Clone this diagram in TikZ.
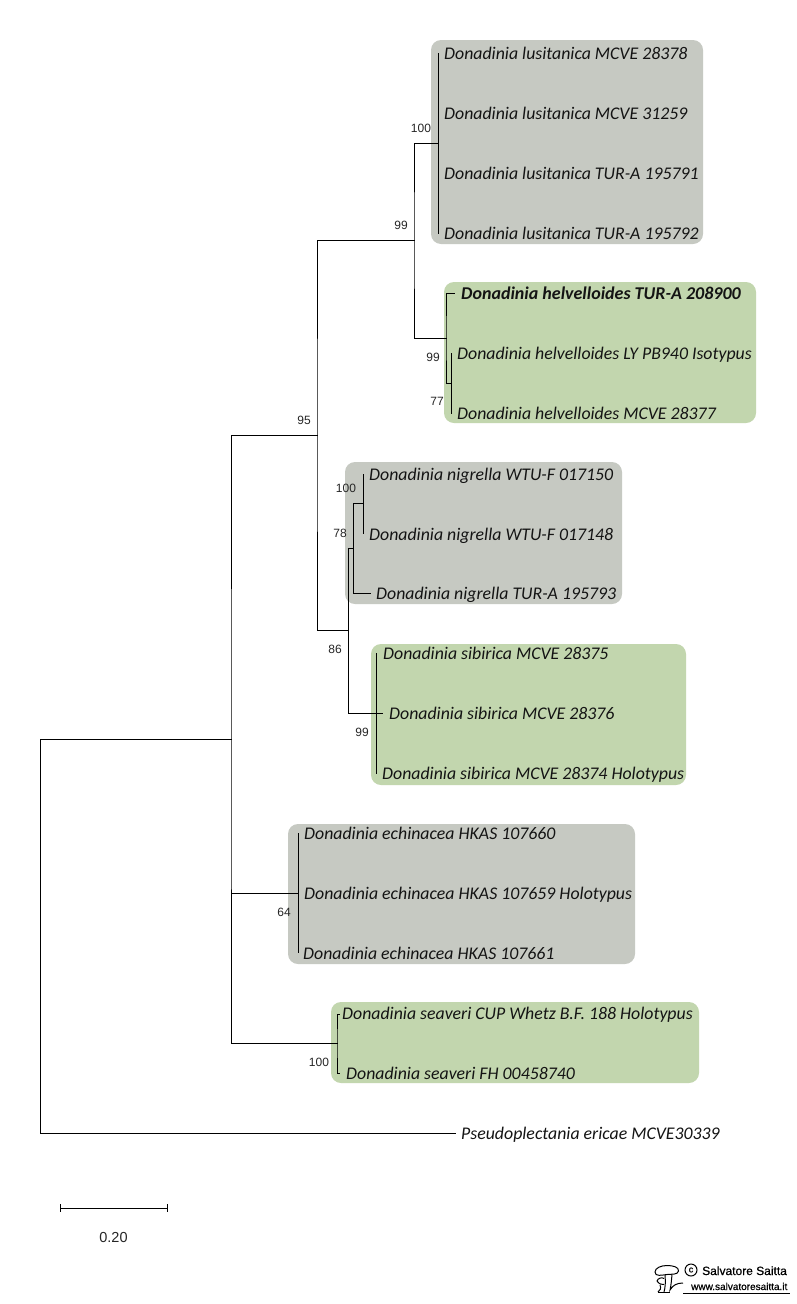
\documentclass[tikz,border=0pt]{standalone}
\usepackage{fontspec}
\setmainfont{Carlito}
\newfontfamily\arialfont{Liberation Sans}
\newfontfamily\sigfont[FakeBold=0.6]{Liberation Sans}
\definecolor{cladegrey}{HTML}{C6C9C2}
\definecolor{cladegreen}{HTML}{C2D6AE}
\tikzset{
  x=1pt,y=-1pt,
  clade/.style={rounded corners=10pt,draw=none},
  taxon/.style={anchor=base west,inner sep=0pt,font=\fontsize{17.8}{20}\selectfont\itshape,text=black!92},
  support/.style={inner sep=0pt,font=\arialfont\fontsize{12}{14}\selectfont,text=black!85},
  branch/.style={draw=black,line width=1pt,line cap=rect},
}
\begin{document}
\begin{tikzpicture}
\useasboundingbox (0,0) rectangle (796,1304);
\fill[white] (0,0) rectangle (796,1304);
% clade panels
\fill[clade,cladegrey] (431,40) rectangle (703,244);
\fill[clade,cladegreen] (444,282) rectangle (756,423);
\fill[clade,cladegrey] (345,462) rectangle (622,604);
\fill[clade,cladegreen] (371,644) rectangle (686,785);
\fill[clade,cladegrey] (288,824) rectangle (635,964);
\fill[clade,cladegreen] (331,1002) rectangle (699,1083);
% taxa
\node[taxon] (l1) at (444,59) {Donadinia lusitanica MCVE 28378};
\node[taxon] (l2) at (444,119) {Donadinia lusitanica MCVE 31259};
\node[taxon] (l3) at (444,179) {Donadinia lusitanica TUR-A 195791};
\node[taxon] (l4) at (444,239) {Donadinia lusitanica TUR-A 195792};
\node[taxon,font=\fontsize{18}{20}\selectfont\itshape\bfseries] (h1) at (461,299) {Donadinia helvelloides TUR-A 208900};
\node[taxon] (h2) at (457,359) {Donadinia helvelloides LY PB940 Isotypus};
\node[taxon] (h3) at (457,419) {Donadinia helvelloides MCVE 28377};
\node[taxon] (n1) at (369,480) {Donadinia nigrella WTU-F 017150};
\node[taxon] (n2) at (369,540) {Donadinia nigrella WTU-F 017148};
\node[taxon] (n3) at (376,599) {Donadinia nigrella TUR-A 195793};
\node[taxon] (s1) at (383,659) {Donadinia sibirica MCVE 28375};
\node[taxon] (s2) at (389,719) {Donadinia sibirica MCVE 28376};
\node[taxon] (s3) at (382,779) {Donadinia sibirica MCVE 28374 Holotypus};
\node[taxon] (e1) at (304,839) {Donadinia echinacea HKAS 107660};
\node[taxon] (e2) at (304,899) {Donadinia echinacea HKAS 107659 Holotypus};
\node[taxon] (e3) at (303,959) {Donadinia echinacea HKAS 107661};
\node[taxon] (v1) at (342,1019) {Donadinia seaveri CUP Whetz B.F. 188 Holotypus};
\node[taxon] (v2) at (346,1079) {Donadinia seaveri FH 00458740};
\node[taxon] (p) at (461,1139) {Pseudoplectania ericae MCVE30339};
% tree junctions
\coordinate (root) at (40,739);
\coordinate (a) at (231,739);
\coordinate (b) at (317,435);
\coordinate (c) at (414,240);
\coordinate (d) at (438,143);
\coordinate (f) at (446,338);
\coordinate (g) at (451.5,383);
\coordinate (i) at (348.5,630);
\coordinate (j) at (353.5,548);
\coordinate (k) at (363.5,503);
\coordinate (m) at (376.5,713);
\coordinate (o) at (298,893);
\coordinate (q) at (337,1043);
% tips
\coordinate (tl1) at (438,53);
\coordinate (tl4) at (438,233);
\coordinate (th1) at (454,293);
\coordinate (th2) at (451.5,353);
\coordinate (th3) at (451.5,413);
\coordinate (tn1) at (363.5,474);
\coordinate (tn2) at (363.5,533);
\coordinate (tn3) at (370,593);
\coordinate (ts1) at (376.5,653);
\coordinate (ts2) at (382,713);
\coordinate (ts3) at (376.5,773);
\coordinate (te1) at (298,833);
\coordinate (te3) at (298,952);
\coordinate (tv1) at (339,1014);
\coordinate (tv2) at (339,1073);
\coordinate (tp) at (455,1133);
% branches
\draw[branch] (tp) -| (root) -- (a);
\draw[branch] (b) -| (a) |- (q);
\draw[branch] (a |- o) -- (o);
\draw[branch] (c) -| (b) |- (i);
\draw[branch] (d) -| (c) |- (f);
\draw[branch] (tl1) -- (tl4);
\draw[branch] (th1) -| (f) |- (g);
\draw[branch] (th2) -- (th3);
\draw[branch] (j) -| (i);
\draw[branch] (i) |- (m);
\draw[branch] (k) -| (j) |- (tn3);
\draw[branch] (tn1) -- (tn2);
\draw[branch] (ts1) -- (ts3);
\draw[branch] (m) -- (ts2);
\draw[branch] (te1) -- (te3);
\draw[branch] (tv1) -| (q) |- (tv2);
% support values
\node[support] (b1) at (421,128) {100};
\node[support] (b2) at (401,225) {99};
\node[support] (b3) at (433,357) {99};
\node[support] (b4) at (437,401) {77};
\node[support] (b5) at (304,420) {95};
\node[support] (b6) at (346,488) {100};
\node[support] (b7) at (340,533) {78};
\node[support] (b8) at (335,649) {86};
\node[support] (b9) at (362,732) {99};
\node[support] (b10) at (284,912) {64};
\node[support] (b11) at (319,1062) {100};
% scale bar
\coordinate (sl) at (60.5,1208);
\coordinate (sr) at (167,1208);
\draw[line width=0.8pt] ([yshift=4pt]sl) -- ([yshift=-4pt]sl) (sl) -- (sr) ([yshift=4pt]sr) -- ([yshift=-4pt]sr);
\node[support,font=\arialfont\fontsize{14.5}{16}\selectfont] (sc) at (113.5,1237) {0.20};
% signature
\begin{scope}[line width=1pt,black]
\draw (655,1272) .. controls (655,1268) and (661,1265.5) .. (667,1265.5) .. controls (673,1265.5) and (679,1267) .. (678.5,1271) .. controls (678,1275) and (671,1274) .. (667,1274.5) .. controls (662,1275) and (655,1277) .. (655,1272) -- cycle;
\draw (665,1275) .. controls (665.5,1281) and (665.5,1287) .. (664,1292);
\draw (672,1274.5) .. controls (671.5,1280) and (671,1286) .. (670,1290) .. controls (673,1285) and (677,1283) .. (683,1283);
\draw (657,1281) .. controls (658,1278) and (662,1277) .. (664,1278.5) (657,1281) .. controls (659,1284) and (662,1285) .. (664,1284.5);
\draw (660,1285) .. controls (661.5,1288) and (660,1291) .. (658,1292);
\draw (658,1292.5) -- (670,1292.5);
\draw (683,1293) -- (790,1293);
\draw[line width=1pt] (691,1270) circle (6);
\end{scope}
\node[inner sep=0pt,font=\sigfont\fontsize{9}{10}\selectfont] (sigc) at (691,1270) {c};
\node[inner sep=0pt,anchor=base west,font=\sigfont\fontsize{12}{12}\selectfont] (sig1) at (702,1275) {Salvatore Saitta};
\node[inner sep=0pt,anchor=base west,font=\sigfont\fontsize{10}{12}\selectfont] (sig2) at (691,1290) {www.salvatoresaitta.it};
\end{tikzpicture}
\end{document}
